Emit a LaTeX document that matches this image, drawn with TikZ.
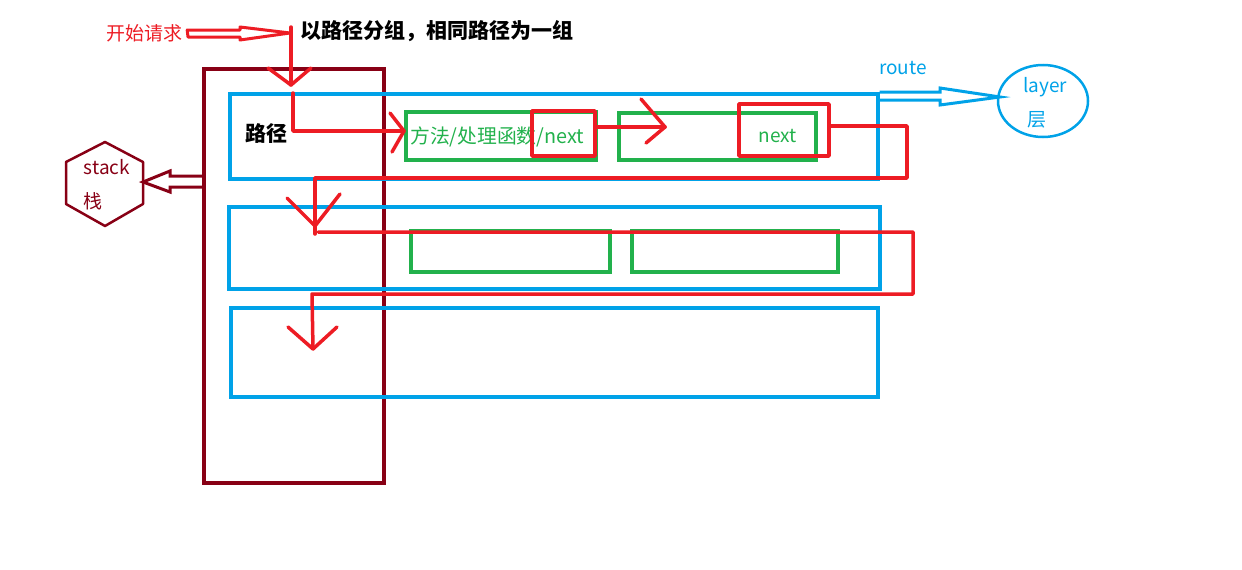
\documentclass[tikz,border=0pt]{standalone}
\usepackage{fontspec}
\setmainfont{Noto Sans CJK SC}
\newfontfamily\cjk{Noto Sans CJK SC}
\usetikzlibrary{shapes.geometric}
\definecolor{pred}{HTML}{ED1C24}
\definecolor{pgreen}{HTML}{22B14C}
\definecolor{pblue}{HTML}{00A2E8}
\definecolor{pmaroon}{HTML}{880015}
\tikzset{
  box/.style={draw, rectangle, anchor=north west, inner sep=0pt, line width=3.5pt},
  bluebox/.style={box, pblue},
  greenbox/.style={box, pgreen},
  redline/.style={draw=pred, line width=3.5pt, line cap=round, line join=round},
  lbl/.style={inner sep=0pt, font=\cjk\fontsize{19}{21}\selectfont},
  boldlbl/.style={inner sep=0pt, font=\cjk\bfseries\fontsize{21}{23}\selectfont},
}
\begin{document}
\begin{tikzpicture}[x=1pt,y=-1pt]
\useasboundingbox (0,0) rectangle (1242,570);
% maroon outer frame
\node[box, pmaroon, minimum width=180pt, minimum height=414pt] (frame) at (202,67) {};
% blue route rows
\node[bluebox, minimum width=648pt, minimum height=85pt] (row1) at (228,92) {};
\node[bluebox, minimum width=651pt, minimum height=82pt] (row2) at (227,205) {};
\node[bluebox, minimum width=647pt, minimum height=89pt] (row3) at (229,306) {};
% green layer boxes
\node[greenbox, minimum width=190pt, minimum height=48pt] (g1) at (404,110) {};
\node[greenbox, minimum width=197pt, minimum height=47pt] (g2) at (617,111) {};
\node[greenbox, minimum width=199pt, minimum height=41pt] (g3) at (409,229) {};
\node[greenbox, minimum width=206pt, minimum height=41pt] (g4) at (630,229) {};
% texts
\node[lbl, text=pred] (start) at (144,33) {开始请求};
\node[boldlbl, anchor=west] (title) at (300,31) {以路径分组，相同路径为一组};
\node[boldlbl] (path) at (266,134) {路径};
\node[lbl, anchor=west, text=pgreen, font=\cjk\fontsize{19.8}{21}\selectfont] (g1t) at (410,137) {方法/处理函数/next};
\node[lbl, text=pgreen] (g2t) at (778,136) {next};
\node[lbl, text=pblue] (route) at (903,68) {route};
% layer ellipse
\node[draw=pblue, ellipse, line width=2.5pt, minimum width=90pt, minimum height=72pt] (layer) at (1043,101) {};
\node[lbl, text=pblue] (layert) at (1045,87) {layer};
\node[lbl, text=pblue] (layerc) at (1037,120) {层};
% stack hexagon
\draw[pmaroon, line width=2.5pt, line join=round] (105,142) -- (143,162) -- (143,204) -- (105,226) -- (66,204) -- (66,162) -- cycle;
\coordinate (hex) at (143,182);
\node[lbl, text=pmaroon] (stackt) at (107,167) {stack};
\node[lbl, text=pmaroon] (stackc) at (93,201) {栈};
% hollow arrows
\draw[pred, line width=3pt, line join=round] (start.east) ++(5,-3) -- (240,30) -- (240,27) -- (290,33) -- (240,40) -- (240,37) -- (188,37) -- cycle;
\draw[pblue, line width=3pt, line join=miter] (row1.north east) -- (940,92) -- (940,88) -- (1000,97) -- (940,105) -- (940,100) -- (876,100);
\draw[pmaroon, line width=3pt, line join=miter] (202,176) -- (170,176) -- (170,171) -- (hex) -- (170,192) -- (170,187) -- (202,187);
% red flow
\coordinate (a0) at (291,27);
\coordinate (a1) at (291,85);
\draw[redline] (a0) -- (a1);
\draw[redline] (268,68) -- (a1) -- (311,68);
\coordinate (b0) at (293,93);
\coordinate (b1) at (293,131);
\coordinate (b2) at (404,131);
\draw[redline] (b0) -- (b1) -- (b2);
\draw[redline] (390,113) -- (b2) -- (392,152);
% box around next 1
\draw[redline] (532,111) rectangle (595,156);
\coordinate (c0) at (595,127);
\coordinate (c1) at (665,127);
\draw[redline] (c0) -- (c1);
\draw[redline] (641,99) -- (c1) -- (646,143);
% box around next 2
\draw[redline] (739,104) rectangle (829,156);
\coordinate (d0) at (829,126);
\coordinate (d1) at (907,126);
\coordinate (d2) at (907,178);
\coordinate (d3) at (315,178);
\coordinate (d4) at (315,234);
\coordinate (dt) at (315,226);
\draw[redline] (d0) -- (d1) -- (d2) -- (d3) -- (d4);
\draw[redline] (287,198) -- (dt) -- (340,194);
\coordinate (e0) at (318,232);
\coordinate (e1) at (913,232);
\coordinate (e2) at (913,294);
\coordinate (e3) at (312,294);
\coordinate (e4) at (313,349);
\draw[redline] (e0) -- (e1) -- (e2) -- (e3) -- (e4);
\draw[redline] (288,327) -- (e4) -- (337,327);
\end{tikzpicture}
\end{document}
